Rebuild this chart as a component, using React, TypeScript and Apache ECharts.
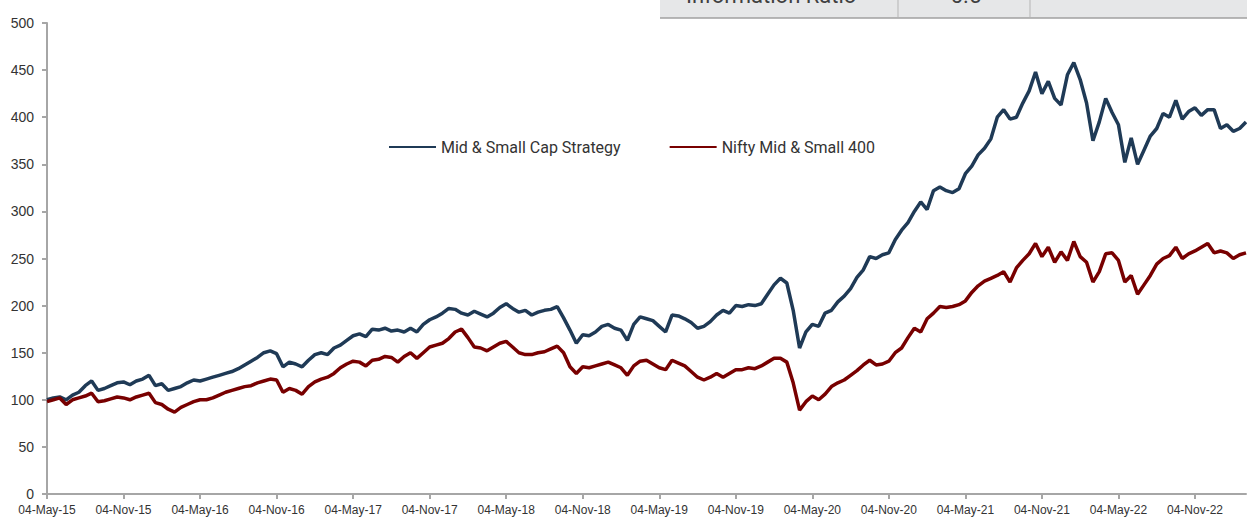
import React, { useEffect, useRef } from "react";
import * as echarts from "echarts";

const MONTH_NAMES = ["Jan", "Feb", "Mar", "Apr", "May", "Jun", "Jul", "Aug", "Sep", "Oct", "Nov", "Dec"];

// Half-monthly observation dates from 04-May-15 to 04-Mar-23
const categories: string[] = [];
for (let i = 0; i <= 188; i++) {
  const m = 4 + Math.floor(i / 2);
  const y = 15 + Math.floor(m / 12);
  const day = i % 2 === 0 ? "04" : "19";
  categories.push(`${day}-${MONTH_NAMES[m % 12]}-${y}`);
}

const strategy = [
  100, 102, 103, 100, 105, 108, 115, 120, 110, 112, 115, 118, 119, 116, 120, 122, 126, 115, 117, 110,
  112, 114, 118, 121, 120, 122, 124, 126, 128, 130, 133, 137, 141, 145, 150, 152, 149, 135, 140, 138,
  135, 142, 148, 150, 148, 155, 158, 163, 168, 170, 167, 175, 174, 176, 173, 174, 172, 176, 172, 180,
  185, 188, 192, 197, 196, 192, 190, 194, 191, 188, 192, 198, 202, 197, 193, 195, 190, 193, 195, 196,
  199, 187, 174, 160, 169, 168, 172, 178, 180, 176, 174, 163, 180, 188, 186, 184, 178, 172, 190, 189,
  186, 182, 176, 178, 183, 190, 195, 192, 200, 199, 201, 200, 202, 212, 222, 229, 224, 195, 155, 172,
  180, 178, 192, 195, 204, 210, 218, 230, 238, 252, 250, 254, 256, 270, 280, 288, 300, 310, 302, 322,
  326, 322, 320, 324, 340, 348, 360, 367, 377, 400, 408, 398, 400, 415, 428, 448, 425, 438, 420, 413,
  445, 458, 440, 415, 375, 395, 420, 405, 392, 352, 378, 350, 365, 380, 388, 404, 400, 418, 398, 406,
  410, 402, 408, 408, 388, 392, 385, 388, 395,
];

const benchmark = [
  98, 100, 102, 95, 100, 102, 104, 107, 98, 99, 101, 103, 102, 100, 103, 105, 107, 97, 95, 90,
  87, 92, 95, 98, 100, 100, 102, 105, 108, 110, 112, 114, 115, 118, 120, 122, 121, 108, 112, 110,
  106, 114, 119, 122, 124, 128, 134, 138, 141, 140, 136, 142, 143, 146, 145, 140, 146, 150, 144, 150,
  156, 158, 160, 165, 172, 175, 166, 156, 155, 152, 156, 160, 162, 156, 150, 148, 148, 150, 151, 154,
  157, 150, 135, 128, 135, 134, 136, 138, 140, 137, 134, 126, 136, 141, 142, 138, 134, 132, 142, 139,
  136, 130, 124, 121, 124, 128, 124, 128, 132, 132, 134, 133, 136, 140, 144, 144, 140, 118, 89, 98,
  104, 100, 106, 114, 118, 121, 126, 131, 137, 142, 137, 138, 141, 150, 155, 166, 176, 172, 186, 192,
  199, 198, 199, 201, 205, 214, 221, 226, 229, 232, 236, 225, 240, 248, 255, 266, 252, 262, 246, 257,
  248, 268, 252, 246, 225, 236, 255, 256, 248, 225, 232, 212, 222, 232, 244, 250, 253, 262, 250, 255,
  258, 262, 266, 256, 258, 256, 250, 254, 256,
];

const seriesNames = ["Mid & Small Cap Strategy", "Nifty Mid & Small 400"];
const seriesColors = ["#1F3A56", "#780000"];

const tableLabel = "Information Ratio";
const tableValue = "0.5";

export default function App() {
  const ref = useRef<HTMLDivElement>(null);

  useEffect(() => {
    if (!ref.current) return;
    const chart = echarts.init(ref.current, undefined, { renderer: "svg" });
    const axisGray = "#A6A6A6";
    chart.setOption({
      animation: false,
      backgroundColor: "#ffffff",
      grid: { left: 47, right: 1, top: 23, bottom: 23, containLabel: false },
      legend: {
        left: 384,
        top: 134,
        itemWidth: 47,
        itemHeight: 2,
        itemGap: 49,
        icon: "rect",
        textStyle: { fontFamily: "Roboto", fontSize: 16, color: "#333333" },
        data: seriesNames,
      },
      xAxis: {
        type: "category",
        data: categories,
        boundaryGap: false,
        axisLine: { show: true, lineStyle: { color: axisGray, width: 2 } },
        axisTick: { show: true, interval: 11, length: 5, lineStyle: { color: axisGray, width: 2 } },
        axisLabel: {
          interval: 11,
          margin: 10,
          fontFamily: "Liberation Sans",
          fontSize: 12,
          color: "#333333",
        },
        splitLine: { show: false },
      },
      yAxis: {
        type: "value",
        min: 0,
        max: 500,
        interval: 50,
        axisLine: { show: true, lineStyle: { color: axisGray, width: 2 } },
        axisTick: { show: true, length: 5, lineStyle: { color: axisGray, width: 2 } },
        axisLabel: { margin: 13, fontFamily: "Liberation Sans", fontSize: 14, color: "#333333" },
        splitLine: { show: false },
      },
      series: [
        {
          name: seriesNames[0],
          type: "line",
          data: strategy,
          showSymbol: false,
          symbol: "none",
          lineStyle: { width: 3.5, color: seriesColors[0] },
          itemStyle: { color: seriesColors[0] },
        },
        {
          name: seriesNames[1],
          type: "line",
          data: benchmark,
          showSymbol: false,
          symbol: "none",
          lineStyle: { width: 3.5, color: seriesColors[1] },
          itemStyle: { color: seriesColors[1] },
        },
      ],
      graphic: [
        {
          type: "rect",
          shape: { x: 660, y: -2, width: 600, height: 20 },
          style: { fill: "#E6E7E8" },
          z: 10,
        },
        {
          type: "line",
          shape: { x1: 660, y1: 18, x2: 1247, y2: 18 },
          style: { stroke: "#A0A0A0", lineWidth: 1.5 },
          z: 11,
        },
        {
          type: "line",
          shape: { x1: 898, y1: 0, x2: 898, y2: 17 },
          style: { stroke: "#B5B5B5", lineWidth: 1 },
          z: 11,
        },
        {
          type: "line",
          shape: { x1: 1030, y1: 0, x2: 1030, y2: 17 },
          style: { stroke: "#B5B5B5", lineWidth: 1 },
          z: 11,
        },
        {
          type: "text",
          x: 686,
          y: 6,
          style: {
            text: tableLabel,
            fontFamily: "Roboto",
            fontSize: 22,
            fill: "#404040",
            verticalAlign: "bottom",
          },
          z: 12,
        },
        {
          type: "text",
          x: 966,
          y: 6,
          style: {
            text: tableValue,
            fontFamily: "Roboto",
            fontSize: 22,
            fill: "#404040",
            align: "center",
            verticalAlign: "bottom",
          },
          z: 12,
        },
      ],
    });
    return () => chart.dispose();
  }, []);

  return (
    <div
      ref={ref}
      style={{ position: "fixed", left: 0, top: 0, width: 1247, height: 517 }}
    />
  );
}
